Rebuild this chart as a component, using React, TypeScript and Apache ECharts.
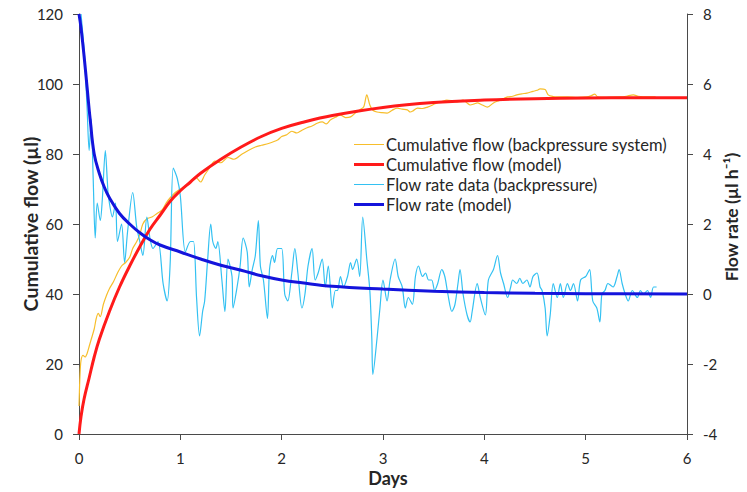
import React, { useEffect, useRef } from "react";
import * as echarts from "echarts";

// [day, µl] – measured cumulative flow (backpressure system)
const cumulativeData: [number, number][] = [
  [0.0, 8], [0.01, 17], [0.02, 21], [0.04, 22.5], [0.06, 22], [0.08, 23], [0.1, 25], [0.12, 27],
  [0.15, 30], [0.17, 33], [0.19, 34.5], [0.21, 33.5], [0.24, 37], [0.27, 39.5], [0.3, 41.5],
  [0.34, 43.5], [0.38, 46], [0.42, 48], [0.46, 49], [0.5, 50.5], [0.53, 53], [0.57, 55], [0.6, 57],
  [0.63, 60], [0.67, 61.5], [0.72, 62], [0.77, 63], [0.82, 64], [0.86, 66], [0.9, 67.5], [0.95, 69],
  [1.0, 70], [1.05, 70.6], [1.1, 72], [1.15, 73.4], [1.2, 72], [1.24, 74], [1.3, 76.5], [1.34, 78],
  [1.4, 77.5], [1.47, 79], [1.53, 78.5], [1.61, 80], [1.67, 81], [1.74, 82], [1.8, 82.5], [1.87, 83],
  [1.96, 84], [2.0, 85], [2.05, 85.5], [2.1, 86.5], [2.15, 86], [2.2, 86.8], [2.25, 87.5], [2.3, 88],
  [2.35, 88.8], [2.4, 89.2], [2.44, 88.6], [2.48, 89.7], [2.53, 90.5], [2.58, 91.1], [2.63, 90.4],
  [2.68, 90.6], [2.73, 91.8], [2.77, 92.6], [2.81, 93.5], [2.84, 96.9], [2.87, 94], [2.9, 92.5],
  [2.94, 92], [2.99, 91.8], [3.04, 91.7], [3.09, 92.5], [3.14, 93.1], [3.19, 92.8], [3.24, 92.6],
  [3.27, 92], [3.3, 92.4], [3.34, 93.1], [3.39, 93], [3.44, 93.4], [3.49, 94], [3.53, 94.6],
  [3.58, 95], [3.63, 95.4], [3.68, 95.2], [3.73, 94.9], [3.79, 95.4], [3.83, 94.6], [3.86, 94],
  [3.9, 94.3], [3.93, 94.6], [3.98, 94], [4.03, 93.4], [4.09, 94.6], [4.12, 95], [4.16, 95.4],
  [4.2, 96], [4.23, 96.3], [4.28, 96.5], [4.32, 96.9], [4.37, 97.2], [4.42, 97.4], [4.48, 97.9],
  [4.52, 98.2], [4.55, 98.6], [4.6, 98.4], [4.63, 96.9], [4.68, 96.4], [4.72, 96.3], [4.82, 96.3],
  [4.92, 96.2], [5.01, 96.3], [5.05, 96.6], [5.09, 97.1], [5.12, 96.3], [5.2, 96.2], [5.34, 96.3],
  [5.4, 96.5], [5.47, 96.9], [5.52, 96.5], [5.61, 96.3], [5.69, 96.3],
];

// [day, µl] – cumulative flow model
const cumulativeModel: [number, number][] = [
  [0, 0], [0.02, 5], [0.05, 10], [0.1, 16], [0.15, 22], [0.2, 27], [0.3, 35], [0.4, 42], [0.5, 48],
  [0.6, 53.5], [0.7, 58.5], [0.8, 62.5], [0.9, 66.5], [1.0, 69.5], [1.1, 72], [1.2, 74.5],
  [1.4, 78.5], [1.6, 82], [1.8, 85], [2.0, 87.3], [2.2, 89], [2.5, 91], [3.0, 93.3], [3.5, 94.7],
  [4.0, 95.4], [4.5, 95.8], [5.0, 96], [5.5, 96.1], [6.0, 96.1],
];

// [day, µl/h] – measured flow rate (backpressure)
const rateData: [number, number][] = [
  [0.02, 8.0], [0.05, 7.0], [0.06, 6.5], [0.08, 5.3], [0.1, 4.1], [0.12, 5.0], [0.14, 3.3],
  [0.16, 1.6], [0.18, 2.6], [0.21, 2.1], [0.23, 2.7], [0.26, 4.1], [0.28, 3.2], [0.29, 2.8],
  [0.33, 2.2], [0.36, 2.6], [0.38, 1.5], [0.42, 2.0], [0.45, 0.9], [0.48, 1.8], [0.53, 2.9],
  [0.57, 1.9], [0.6, 1.5], [0.63, 1.1], [0.67, 2.2], [0.7, 1.6], [0.73, 1.3], [0.78, 1.5],
  [0.83, 0.3], [0.87, -0.2], [0.9, 0.9], [0.93, 3.6], [0.97, 3.3], [1.0, 2.8], [1.05, 1.2],
  [1.1, 1.5], [1.13, 1.5], [1.16, -0.1], [1.19, -1.2], [1.22, -0.5], [1.24, -0.2], [1.27, 1.0],
  [1.3, 2.0], [1.32, 1.5], [1.35, 1.3], [1.37, 1.5], [1.41, 0.4], [1.44, -0.5], [1.47, 1.0],
  [1.51, 0.5], [1.52, -0.4], [1.56, 0.2], [1.59, 0.8], [1.62, 1.6], [1.66, 1.2], [1.68, 0.2],
  [1.71, 0.7], [1.74, 1.1], [1.77, 2.1], [1.79, 0.8], [1.82, 0.4], [1.86, -0.7], [1.88, 0.7],
  [1.91, 1.1], [1.93, 0.9], [1.96, 1.3], [2.0, 1.3], [2.03, 0.0], [2.06, -0.2], [2.1, 0.6],
  [2.13, 1.3], [2.16, 0.6], [2.2, -0.4], [2.23, 0.0], [2.26, 0.8], [2.3, 1.3], [2.33, 0.4],
  [2.36, 0.6], [2.4, 1.0], [2.43, 0.2], [2.46, 0.8], [2.5, -0.4], [2.53, 0.1], [2.55, 0.1],
  [2.58, 0.5], [2.61, 0.2], [2.65, 0.5], [2.68, 0.9], [2.7, 0.7], [2.74, 1.0], [2.77, 0.5],
  [2.8, 2.2], [2.84, 1.0], [2.87, 0.1], [2.89, -1.3], [2.9, -2.3], [2.94, -1.3], [2.97, -0.4],
  [3.0, 0.4], [3.04, -0.2], [3.07, 0.4], [3.12, 1.0], [3.15, 0.5], [3.19, 0.2], [3.22, -0.4],
  [3.25, -0.1], [3.29, -0.3], [3.32, 0.5], [3.35, 0.8], [3.39, 0.5], [3.42, 0.6], [3.45, 0.4],
  [3.48, 0.4], [3.51, 0.1], [3.54, 0.3], [3.58, 0.7], [3.61, 0.5], [3.64, 0.0], [3.68, -0.5],
  [3.71, -0.3], [3.74, 0.3], [3.76, 0.7], [3.79, 0.0], [3.83, -0.6], [3.86, -0.8], [3.88, -0.5],
  [3.93, 0.3], [3.96, -0.1], [4.01, -0.6], [4.04, 0.4], [4.09, 0.7], [4.13, 1.1], [4.16, 0.6],
  [4.19, 0.3], [4.23, -0.1], [4.26, 0.2], [4.28, 0.4], [4.32, 0.3], [4.35, 0.45], [4.38, 0.3],
  [4.42, 0.4], [4.45, 0.2], [4.48, 0.5], [4.52, 0.6], [4.55, 0.2], [4.57, 0.1], [4.6, -0.4],
  [4.62, -1.2], [4.65, -0.6], [4.68, 0.3], [4.72, -0.1], [4.75, 0.3], [4.78, -0.1], [4.82, 0.3],
  [4.85, 0.1], [4.88, 0.3], [4.92, -0.2], [4.95, 0.4], [5.0, 0.5], [5.02, 0.6], [5.04, 0.7],
  [5.07, -0.2], [5.11, -0.4], [5.14, -0.8], [5.16, 0.0], [5.19, 0.1], [5.22, 0.3], [5.27, 0.2],
  [5.31, 0.5], [5.33, 0.7], [5.36, 0.3], [5.39, 0.0], [5.42, -0.2], [5.46, 0.1], [5.51, -0.1],
  [5.54, 0.1], [5.57, 0.0], [5.61, 0.1], [5.64, -0.1], [5.67, 0.2], [5.7, 0.2],
];

// [day, µl/h] – flow rate model
const rateModel: [number, number][] = [
  [0, 8], [0.02, 7.6], [0.05, 6.8], [0.08, 5.9], [0.11, 5.0], [0.15, 4.0], [0.2, 3.45],
  [0.25, 3.05], [0.3, 2.75], [0.4, 2.3], [0.5, 2.0], [0.6, 1.75], [0.7, 1.55], [0.8, 1.4],
  [1.0, 1.2], [1.2, 1.0], [1.4, 0.82], [1.6, 0.68], [1.8, 0.52], [2.0, 0.4], [2.2, 0.32],
  [2.5, 0.22], [3.0, 0.14], [3.5, 0.08], [4.0, 0.04], [4.5, 0.02], [5.0, 0.01], [6.0, 0.0],
];

const seriesNames = [
  "Cumulative flow (backpressure system)",
  "Cumulative flow (model)",
  "Flow rate data (backpressure)",
  "Flow rate (model)",
];

const FONT = "Lato, 'Open Sans', sans-serif";
const AXIS_COLOR = "#4a4a4a";
const TEXT_COLOR = "#262626";
const THIN_ICON = "path://M0,0 L60,0 L60,2 L0,2 Z";
const THICK_ICON = "path://M0,0 L60,0 L60,6 L0,6 Z";

export default function App() {
  const ref = useRef<HTMLDivElement>(null);

  useEffect(() => {
    if (!ref.current) return;
    const chart = echarts.init(ref.current, undefined, { renderer: "svg" });
    const axisCommon = {
      axisLine: { show: true, onZero: false, lineStyle: { color: AXIS_COLOR, width: 1 } },
      axisTick: { show: true, inside: false, length: 6, lineStyle: { color: AXIS_COLOR } },
      splitLine: { show: false },
      axisLabel: { color: TEXT_COLOR, fontSize: 15, fontFamily: FONT, margin: 16 },
    };
    chart.setOption({
      animation: false,
      backgroundColor: "#ffffff",
      grid: { left: 79, right: 60, top: 14, bottom: 58, containLabel: false },
      legend: {
        orient: "vertical",
        left: 349,
        top: 131,
        itemWidth: 30,
        itemHeight: 12,
        itemGap: 3,
        symbolKeepAspect: true,
        data: [
          { name: seriesNames[0], icon: THIN_ICON },
          { name: seriesNames[1], icon: THICK_ICON },
          { name: seriesNames[2], icon: THIN_ICON },
          { name: seriesNames[3], icon: THICK_ICON },
        ],
        textStyle: { color: TEXT_COLOR, fontSize: 16.5, fontFamily: FONT, lineHeight: 16, padding: [0, 0, 0, -3] },
      },
      xAxis: {
        type: "value",
        min: 0,
        max: 6,
        interval: 1,
        ...axisCommon,
      },
      yAxis: [
        { type: "value", position: "left", min: 0, max: 120, interval: 20, ...axisCommon },
        { type: "value", position: "right", min: -4, max: 8, interval: 2, ...axisCommon },
      ],
      series: [
        {
          name: seriesNames[0],
          type: "line",
          yAxisIndex: 0,
          data: cumulativeData,
          symbol: "none",
          smooth: 0.3,
          lineStyle: { color: "#F7BE2B", width: 1.2 },
          itemStyle: { color: "#F7BE2B" },
          z: 2,
        },
        {
          name: seriesNames[1],
          type: "line",
          yAxisIndex: 0,
          data: cumulativeModel,
          symbol: "none",
          smooth: 0.4,
          lineStyle: { color: "#FF1A1A", width: 3 },
          itemStyle: { color: "#FF1A1A" },
          z: 4,
        },
        {
          name: seriesNames[2],
          type: "line",
          yAxisIndex: 1,
          data: rateData,
          symbol: "none",
          smooth: 0.3,
          lineStyle: { color: "#33C1F2", width: 1.2 },
          itemStyle: { color: "#33C1F2" },
          z: 3,
        },
        {
          name: seriesNames[3],
          type: "line",
          yAxisIndex: 1,
          data: rateModel,
          symbol: "none",
          smooth: 0.4,
          lineStyle: { color: "#1414DC", width: 3 },
          itemStyle: { color: "#1414DC" },
          z: 5,
        },
      ],
      graphic: [
        {
          type: "text",
          x: 30,
          y: 224,
          rotation: Math.PI / 2,
          style: {
            text: "Cumulative flow (µl)",
            fontSize: 19.5,
            fontWeight: "bold",
            fontFamily: FONT,
            fill: TEXT_COLOR,
            align: "center",
            verticalAlign: "middle",
          },
        },
        {
          type: "text",
          x: 731,
          y: 217,
          rotation: Math.PI / 2,
          style: {
            text: "Flow rate (µl h⁻¹)",
            fontSize: 17.5,
            fontWeight: "bold",
            fontFamily: FONT,
            fill: TEXT_COLOR,
            align: "center",
            verticalAlign: "middle",
          },
        },
        {
          type: "text",
          x: 388,
          y: 478,
          style: {
            text: "Days",
            fontSize: 18,
            fontWeight: "bold",
            fontFamily: FONT,
            fill: TEXT_COLOR,
            align: "center",
            verticalAlign: "middle",
          },
        },
      ],
    });
    return () => chart.dispose();
  }, []);

  return (
    <div
      ref={ref}
      style={{ position: "absolute", left: 0, top: 0, width: 747, height: 492, background: "#fff" }}
    />
  );
}
